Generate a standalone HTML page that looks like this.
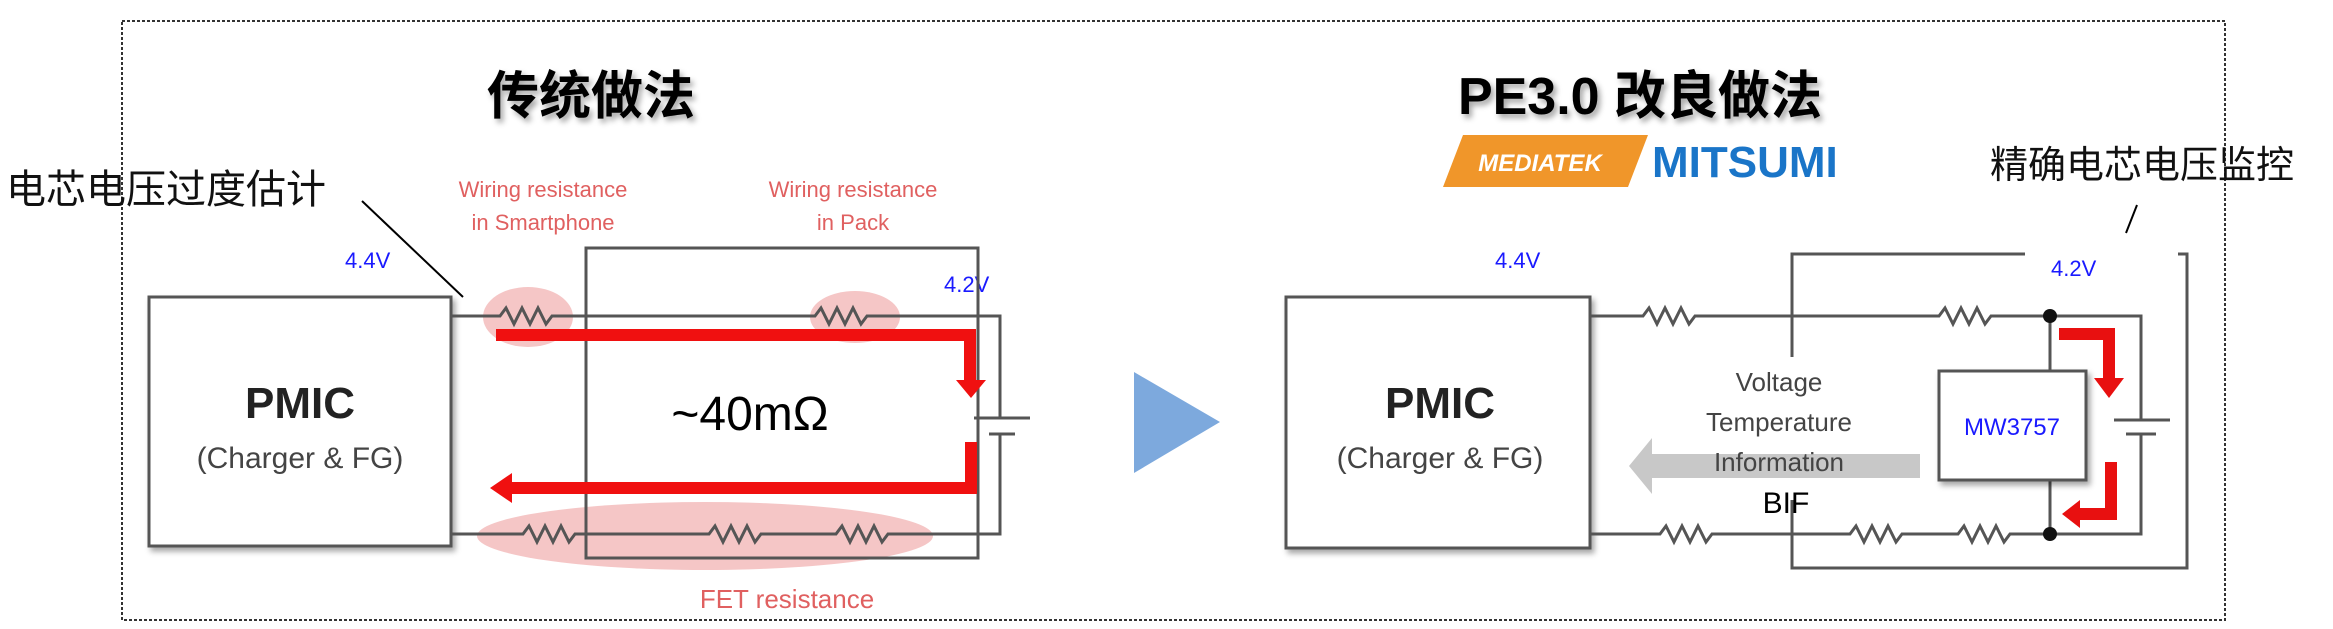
<!DOCTYPE html>
<html><head><meta charset="utf-8"><style>
html,body{margin:0;padding:0;background:#fff;}
svg{display:block;}
text{font-family:"Liberation Sans","Noto Sans CJK SC",sans-serif;}
</style></head><body>
<svg width="2333" height="629" viewBox="0 0 2333 629" xmlns="http://www.w3.org/2000/svg">
<defs>
<filter id="sh" x="-10%" y="-10%" width="130%" height="130%"><feDropShadow dx="3" dy="4" stdDeviation="3" flood-color="#000" flood-opacity="0.35"/></filter>
</defs>
<rect x="122" y="21" width="2103" height="599" fill="none" stroke="#333" stroke-width="2" stroke-dasharray="3,2"/>

<!-- LEFT -->
<text x="591" y="114" font-size="52" font-weight="bold" text-anchor="middle" filter="url(#sh)">传统做法</text>
<text x="6" y="203" font-size="40" fill="#111" font-family="'Noto Serif CJK SC','Noto Sans CJK SC',serif">电芯电压过度估计</text>
<line x1="362" y1="201" x2="463" y2="297" stroke="#000" stroke-width="2"/>
<g fill="#e06060" font-size="22" text-anchor="middle">
<text x="543" y="197">Wiring resistance</text><text x="543" y="230">in Smartphone</text>
<text x="853" y="197">Wiring resistance</text><text x="853" y="230">in Pack</text>
<text x="787" y="608" font-size="26">FET resistance</text>
</g>
<text x="345" y="268" font-size="22" fill="#1a1aff">4.4V</text>
<text x="944" y="292" font-size="22" fill="#1a1aff">4.2V</text>
<ellipse cx="528" cy="317" rx="45" ry="30" fill="#f2b8b8" opacity="0.8"/>
<ellipse cx="855" cy="317" rx="45" ry="26" fill="#f2b8b8" opacity="0.8"/>
<ellipse cx="705" cy="536" rx="228" ry="34" fill="#f2b8b8" opacity="0.8"/>
<rect x="149" y="297" width="302" height="249" fill="#fff" stroke="#555" stroke-width="3" filter="url(#sh)"/>
<text x="300" y="418" font-size="44" font-weight="bold" text-anchor="middle" fill="#222">PMIC</text>
<text x="300" y="468" font-size="30" text-anchor="middle" fill="#444">(Charger &amp; FG)</text>
<rect x="586" y="248" width="392" height="310" fill="none" stroke="#555" stroke-width="3"/>
<g fill="none" stroke="#555" stroke-width="3">
<path d="M451 316 H500 l6 -8 l8 16 l8 -16 l8 16 l8 -16 l8 16 l6 -8 H815 l6 -8 l8 16 l8 -16 l8 16 l8 -16 l8 16 l6 -8 H1000 V534 H888 l-6 8 l-8 -16 l-8 16 l-8 -16 l-8 16 l-8 -16 l-6 8 H761 l-6 8 l-8 -16 l-8 16 l-8 -16 l-8 16 l-8 -16 l-6 8 H575 l-6 8 l-8 -16 l-8 16 l-8 -16 l-8 16 l-8 -16 l-6 8 H451"/>
</g>
<rect x="985" y="404" width="30" height="40" fill="#fff"/>
<line x1="974" y1="418" x2="1030" y2="418" stroke="#555" stroke-width="3"/>
<line x1="989" y1="434" x2="1015" y2="434" stroke="#555" stroke-width="3"/>
<line x1="1000" y1="404" x2="1000" y2="418" stroke="#555" stroke-width="3"/>
<line x1="1000" y1="434" x2="1000" y2="444" stroke="#555" stroke-width="3"/>
<g fill="#f01010">
<path d="M496 329 H976 V380 H986 L971 398 L956 380 H964 V341 H496 Z"/>
<path d="M965 442 H977 V494 H512 V503 L490 488 L512 473 V482 H965 Z"/>
</g>
<text x="750" y="430" font-size="48" text-anchor="middle" fill="#000">~40mΩ</text>
<polygon points="1134,372 1220,422 1134,473" fill="#7da9dd"/>

<!-- RIGHT -->
<text x="1640" y="114" font-size="52" font-weight="bold" text-anchor="middle" filter="url(#sh)">PE3.0 改良做法</text>
<polygon points="1463,135 1648,135 1628,187 1443,187" fill="#f0962a"/>
<text x="1540" y="171" font-size="24" font-weight="bold" font-style="italic" fill="#fff" text-anchor="middle">MEDIATEK</text>
<text x="1652" y="177" font-size="44" font-weight="bold" fill="#1a75c8">MITSUMI</text>
<text x="1990" y="178" font-size="38" fill="#111" font-family="'Noto Serif CJK SC','Noto Sans CJK SC',serif">精确电芯电压监控</text>
<line x1="2137" y1="205" x2="2126" y2="233" stroke="#000" stroke-width="2"/>
<text x="1495" y="268" font-size="22" fill="#1a1aff">4.4V</text>
<text x="2051" y="276" font-size="22" fill="#1a1aff">4.2V</text>
<rect x="1286" y="297" width="304" height="251" fill="#fff" stroke="#555" stroke-width="3" filter="url(#sh)"/>
<text x="1440" y="418" font-size="44" font-weight="bold" text-anchor="middle" fill="#222">PMIC</text>
<text x="1440" y="468" font-size="30" text-anchor="middle" fill="#444">(Charger &amp; FG)</text>
<g fill="none" stroke="#555" stroke-width="3">
<path d="M2025 254 H1792 V357 M1792 500 V568 H2187 V254 H2178"/>
<path d="M1590 316 H1643 l6 -8 l8 16 l8 -16 l8 16 l8 -16 l8 16 l6 -8 H1939 l6 -8 l8 16 l8 -16 l8 16 l8 -16 l8 16 l6 -8 H2141 V534 H2010 l-6 8 l-8 -16 l-8 16 l-8 -16 l-8 16 l-8 -16 l-6 8 H1902 l-6 8 l-8 -16 l-8 16 l-8 -16 l-8 16 l-8 -16 l-6 8 H1712 l-6 8 l-8 -16 l-8 16 l-8 -16 l-8 16 l-8 -16 l-6 8 H1590"/>
<path d="M2050 316 V371 M2050 480 V534"/>
</g>
<rect x="2126" y="404" width="30" height="40" fill="#fff"/>
<line x1="2114" y1="420" x2="2170" y2="420" stroke="#555" stroke-width="3"/>
<line x1="2126" y1="434" x2="2156" y2="434" stroke="#555" stroke-width="3"/>
<line x1="2141" y1="404" x2="2141" y2="420" stroke="#555" stroke-width="3"/>
<line x1="2141" y1="434" x2="2141" y2="444" stroke="#555" stroke-width="3"/>
<circle cx="2050" cy="316" r="7" fill="#111"/>
<circle cx="2050" cy="534" r="7" fill="#111"/>
<rect x="1939" y="371" width="147" height="109" fill="#fff" stroke="#555" stroke-width="3" filter="url(#sh)"/>
<text x="2012" y="435" font-size="24" fill="#1a1aff" text-anchor="middle">MW3757</text>
<g fill="#e81010">
<path d="M2059 328 H2115 V378 H2124 L2109 398 L2094 378 H2103 V340 H2059 Z"/>
<path d="M2105 462 H2117 V520 H2080 V528 L2062 514 L2080 500 V508 H2105 Z"/>
</g>
<polygon points="1629,466 1652,438 1652,454 1920,454 1920,478 1652,478 1652,494" fill="#c8c8c8"/>
<g font-size="26" text-anchor="middle" fill="#444">
<text x="1779" y="391">Voltage</text>
<text x="1779" y="431">Temperature</text>
<text x="1779" y="471">Information</text>
</g>
<text x="1786" y="513" font-size="30" text-anchor="middle" fill="#000">BIF</text>
</svg>
</body></html>
